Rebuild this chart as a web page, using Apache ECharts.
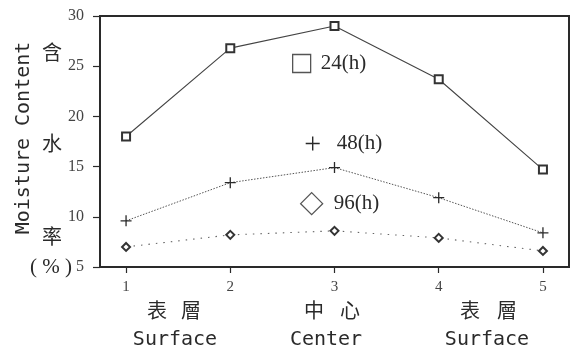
<!DOCTYPE html>
<html>
<head>
<meta charset="utf-8">
<script src="https://cdn.jsdelivr.net/npm/echarts@6/dist/echarts.min.js"></script>
<style>
  html, body { margin: 0; padding: 0; background: #fff; }
  #chart { width: 576px; height: 354px; }
</style>
</head>
<body>
<div id="chart"></div>
<script>
// positions along the sample (1..5)
const positions = [1, 2, 3, 4, 5];
const yTicks = [5, 10, 15, 20, 25, 30];

// moisture content (%) after drying time
const h24 = [18.0, 26.8, 29.0, 23.7, 14.7];
const h48 = [9.6, 13.4, 14.9, 11.9, 8.4];
const h96 = [7.0, 8.2, 8.6, 7.9, 6.6];

const seriesNames = ['24(h)', '48(h)', '96(h)'];

const plusPath = 'path://M5,0V10M0,5H10';
const ink = '#2a2a2a';
const serif = 'Liberation Serif';
const mono = 'DejaVu Sans Mono';
const cjk = '"Noto Sans CJK TC"';

function pairs(vals) {
  return positions.map((x, i) => [x, vals[i]]);
}

function label(text, x, y, font) {
  return { type: 'text', x: x, y: y,
    style: { text: text, font: font, fill: ink, align: 'center', verticalAlign: 'middle' } };
}

const chart = echarts.init(document.getElementById('chart'));

function legendAt(name, icon, left, top, size, iconStyle, gap) {
  return {
    data: [{ name: name, icon: icon, itemStyle: iconStyle }],
    left: left, top: top, padding: 0,
    itemWidth: size, itemHeight: size, itemGap: 0,
    selectedMode: false,
    textStyle: { fontFamily: serif, fontSize: 21, color: ink, padding: [0, 0, 0, gap] }
  };
}

chart.setOption({
  animation: false,
  grid: {
    left: 100, right: 7, top: 16, bottom: 87,
    show: true, borderColor: ink, borderWidth: 2, backgroundColor: '#fff'
  },
  legend: [
    legendAt('24(h)', 'rect', 292, 53, 18, { color: '#fff', borderColor: '#555', borderWidth: 1.3 }, 5),
    legendAt('48(h)', plusPath, 305, 133, 14, { color: ink, borderColor: ink, borderWidth: 1.4 }, 12),
    legendAt('96(h)', 'diamond', 300, 192, 22, { color: '#fff', borderColor: '#555', borderWidth: 1.3 }, 6)
  ],
  xAxis: {
    type: 'value', min: 0.75, max: 5.25,
    axisLine: { show: false },
    splitLine: { show: false },
    axisTick: { show: true, customValues: positions, length: 6, lineStyle: { color: ink, width: 1.2 } },
    axisLabel: {
      customValues: positions, margin: 13,
      fontFamily: serif, fontSize: 15, color: '#444'
    }
  },
  yAxis: {
    type: 'value', min: 5, max: 30, interval: 5,
    axisLine: { show: false },
    splitLine: { show: false },
    axisTick: { show: true, length: 7, lineStyle: { color: ink, width: 1.2 } },
    axisLabel: { margin: 16, fontFamily: serif, fontSize: 16, color: '#444' }
  },
  series: [
    {
      name: seriesNames[0], type: 'line', data: pairs(h24),
      symbol: 'emptyRect', symbolSize: 8,
      itemStyle: { color: '#333', borderWidth: 1.2 },
      lineStyle: { color: '#444', width: 1.1 }
    },
    {
      name: seriesNames[1], type: 'line', data: pairs(h48),
      symbol: plusPath, symbolSize: 11,
      itemStyle: { color: ink, borderColor: ink, borderWidth: 1.3 },
      lineStyle: { color: '#555', width: 1, type: [1.5, 1.5] }
    },
    {
      name: seriesNames[2], type: 'line', data: pairs(h96),
      symbol: 'emptyDiamond', symbolSize: 8,
      itemStyle: { color: '#333', borderWidth: 1.1 },
      lineStyle: { color: '#666', width: 1.1, type: [1.5, 6] }
    }
  ],
  graphic: [
    // y axis title
    { type: 'text', x: 24, y: 138, rotation: Math.PI / 2,
      style: { text: 'Moisture Content', font: '20px ' + mono, fill: ink, align: 'center', verticalAlign: 'middle' } },
    label('含', 52, 52, '20px ' + cjk),
    label('水', 52, 143, '20px ' + cjk),
    label('率', 52, 236, '20px ' + cjk),
    label('( % )', 51, 267, '21px ' + serif),
    // position groups under the x axis
    label('表', 157, 310, '20px ' + cjk),
    label('層', 191, 310, '20px ' + cjk),
    label('中', 314, 310, '20px ' + cjk),
    label('心', 350, 310, '20px ' + cjk),
    label('表', 470, 310, '20px ' + cjk),
    label('層', 507, 310, '20px ' + cjk),
    label('Surface', 175, 340, '20px ' + mono),
    label('Center', 326, 340, '20px ' + mono),
    label('Surface', 487, 340, '20px ' + mono)
  ]
});
</script>
</body>
</html>
